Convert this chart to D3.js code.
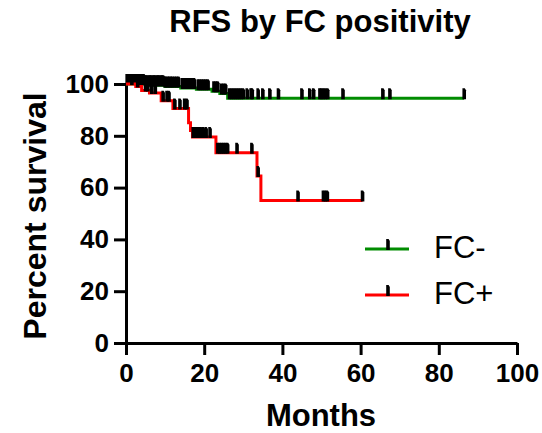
<!DOCTYPE html>
<html>
<head>
  <meta charset="utf-8">
  <title>RFS by FC positivity</title>
  <script src="https://cdn.jsdelivr.net/npm/d3@7"></script>
  <style>
    body { margin: 0; background: #fff; }
    svg text { font-family: "Liberation Sans", Arial, sans-serif; fill: #000; }
  </style>
</head>
<body>
  <svg id="chart" width="542" height="433"></svg>
  <script>
    // step points: [month, percent surviving after the step]
    var fcNegSteps = [[0, 100], [5, 99.5], [10, 99], [14, 98.5], [18, 98], [22, 97.2], [24, 96.3], [26, 94.5]];
    var fcNegEnd = 86.5;
    var fcNegCensor = [0.3, 0.6, 1, 1.3, 1.6, 2, 2.3, 2.6, 3, 3.3, 3.6, 4, 4.3, 4.6, 5, 5.3, 5.6, 6, 6.3,
      6.6, 7, 7.3, 7.6, 8, 8.3, 8.6, 9, 9.3, 9.6, 10, 10.4, 10.8, 11.2, 11.6, 12, 12.5, 13, 13.5, 14.5,
      15, 15.5, 16, 16.5, 17, 17.5, 18.5, 19, 19.5, 20, 20.5, 21, 22.5, 23, 23.5, 24.5, 25, 25.5,
      26.5, 27, 27.5, 28, 28.5, 29, 29.5, 30, 31, 32, 32.3, 33.8, 35, 36.8, 39,
      45, 47, 48, 49.6, 50, 50.5, 51, 51.6, 55.5, 65.7, 67.5, 86.5];

    var fcPosSteps = [[0, 100], [2.5, 99], [4, 97.5], [6, 96.5], [9, 93.5], [12, 90.5], [16, 85],
      [16.5, 82], [17, 79.5], [23, 73.5], [33.5, 64.5], [34.5, 55]];
    var fcPosEnd = 60.5;
    var fcPosCensor = [1.5, 3, 5, 5.6, 6.6, 7.5, 9.5, 10.5, 11, 12.5, 13.8, 15, 15.6, 17.2, 17.6, 18,
      18.4, 18.8, 19.2, 19.8, 20.5, 21.5, 23.5, 24, 24.5, 25, 25.5, 26, 28.4, 32.2, 33.8,
      44, 50.5, 51, 51.5, 60.5];

    var xTicks = [0, 20, 40, 60, 80, 100];
    var yTicks = [0, 20, 40, 60, 80, 100];
    var seriesNames = ["FC-", "FC+"];
    var seriesColors = ["#008c00", "#ff0000"];

    var svg = d3.select("#chart");

    var x = d3.scaleLinear().domain([0, 100]).range([126, 517]);
    var y = d3.scaleLinear().domain([0, 100]).range([343, 84]);

    // axes
    var xAxis = svg.append("g")
      .attr("transform", "translate(0,343)")
      .call(d3.axisBottom(x).tickValues(xTicks).tickSize(12).tickPadding(9).tickSizeOuter(0));
    var yAxis = svg.append("g")
      .attr("transform", "translate(126,0)")
      .call(d3.axisLeft(y).tickValues(yTicks).tickSize(12).tickPadding(5).tickSizeOuter(0));

    [xAxis, yAxis].forEach(function (g) {
      g.select(".domain").attr("stroke", "#000").attr("stroke-width", 3);
      g.selectAll(".tick line").attr("stroke", "#000").attr("stroke-width", 3);
      g.selectAll(".tick text")
        .attr("font-size", 26)
        .attr("font-weight", "bold")
        .attr("font-family", "Liberation Sans, Arial, sans-serif");
    });

    function stepPath(steps, end) {
      var pts = [];
      steps.forEach(function (s, i) {
        if (i > 0) pts.push([s[0], steps[i - 1][1]]);
        pts.push(s);
      });
      pts.push([end, steps[steps.length - 1][1]]);
      return d3.line().x(function (d) { return x(d[0]); }).y(function (d) { return y(d[1]); })(pts);
    }

    function survAt(steps, t) {
      var v = 100;
      steps.forEach(function (s) { if (s[0] <= t) v = s[1]; });
      return v;
    }

    function censorMark(cx, cy) {
      return "M" + (cx - 1.8) + "," + (cy + 1) + "V" + (cy - 10) + "H" + (cx + 0.6) +
        "L" + (cx + 1.8) + "," + (cy - 8) + "V" + (cy + 1) + "Z";
    }

    var series = [
      { steps: fcNegSteps, end: fcNegEnd, censor: fcNegCensor },
      { steps: fcPosSteps, end: fcPosEnd, censor: fcPosCensor }
    ];

    series.forEach(function (s, i) {
      svg.append("path")
        .attr("d", stepPath(s.steps, s.end))
        .attr("fill", "none")
        .attr("stroke", seriesColors[i])
        .attr("stroke-width", 3);

      svg.append("g").selectAll("path")
        .data(s.censor)
        .enter()
        .append("path")
        .attr("d", function (t) { return censorMark(x(t), y(survAt(s.steps, t))); })
        .attr("fill", "#000");
    });

    // legend
    var legendY = [249, 295];
    seriesNames.forEach(function (name, i) {
      var g = svg.append("g");
      g.append("line")
        .attr("x1", 365).attr("x2", 409)
        .attr("y1", legendY[i]).attr("y2", legendY[i])
        .attr("stroke", seriesColors[i])
        .attr("stroke-width", 3);
      g.append("path")
        .attr("d", censorMark(388, legendY[i]))
        .attr("fill", "#000");
      g.append("text")
        .attr("x", 434)
        .attr("y", legendY[i] + 9)
        .attr("font-size", 31)
        .text(name);
    });

    // titles
    svg.append("text")
      .attr("x", 320).attr("y", 32)
      .attr("text-anchor", "middle")
      .attr("font-size", 31)
      .attr("font-weight", "bold")
      .text("RFS by FC positivity");

    svg.append("text")
      .attr("x", 321).attr("y", 426)
      .attr("text-anchor", "middle")
      .attr("font-size", 31)
      .attr("font-weight", "bold")
      .text("Months");

    svg.append("text")
      .attr("transform", "translate(46,216) rotate(-90)")
      .attr("text-anchor", "middle")
      .attr("font-size", 32)
      .attr("font-weight", "bold")
      .text("Percent survival");
  </script>
</body>
</html>
